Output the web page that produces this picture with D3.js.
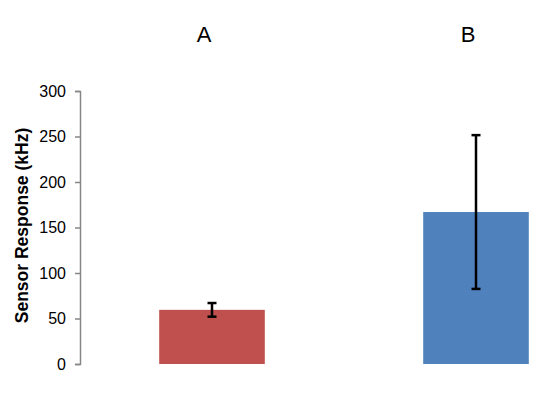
<!DOCTYPE html>
<meta charset="utf-8">
<style>
body { margin: 0; background: #fff; }
text { font-family: "Liberation Sans", Arial, sans-serif; }
</style>
<svg width="550" height="393"></svg>
<script src="https://d3js.org/d3.v7.min.js"></script>
<script>

var categories = ["A", "B"];
var values = [59.5, 167];
var errors = [7.5, 84.5];
var colors = ["#C0504D", "#4F81BD"];
var yTicks = [0, 50, 100, 150, 200, 250, 300];

var svg = d3.select("svg"),
    margin = {top: 91, left: 80, bottom: 29},
    height = +svg.attr("height") - margin.bottom;

var x = d3.scaleBand()
    .domain(categories)
    .range([margin.left, margin.left + 528])
    .paddingInner(0.6)
    .paddingOuter(0.3);

var y = d3.scaleLinear()
    .domain([0, 300])
    .range([height, margin.top]);

var data = categories.map(function(c, i) {
  return {cat: c, value: values[i], err: errors[i], color: colors[i]};
});

// bars
svg.selectAll(".bar")
  .data(data)
  .enter().append("rect")
    .attr("class", "bar")
    .attr("x", function(d) { return x(d.cat); })
    .attr("y", function(d) { return y(d.value); })
    .attr("width", x.bandwidth())
    .attr("height", function(d) { return y(0) - y(d.value); })
    .attr("fill", function(d) { return d.color; });

// y axis
var yAxis = svg.append("g")
    .attr("transform", "translate(" + margin.left + ",0)")
    .call(d3.axisLeft(y).tickValues(yTicks).tickSize(5).tickPadding(9));

yAxis.select(".domain").attr("stroke", "#868686").attr("stroke-width", 1.5);
yAxis.selectAll(".tick line").attr("stroke", "#868686").attr("stroke-width", 1.5);
yAxis.selectAll(".tick text")
    .attr("font-family", "'Liberation Sans', Arial, sans-serif")
    .attr("font-size", 16)
    .attr("fill", "#000");

// error bars
var eb = svg.append("g").selectAll("g")
  .data(data)
  .enter().append("g")
    .attr("stroke", "#000")
    .attr("stroke-width", 2.5);

eb.append("line")
    .attr("x1", function(d) { return x(d.cat) + x.bandwidth() / 2; })
    .attr("x2", function(d) { return x(d.cat) + x.bandwidth() / 2; })
    .attr("y1", function(d) { return y(d.value + d.err); })
    .attr("y2", function(d) { return y(d.value - d.err); });

[1, -1].forEach(function(s) {
  eb.append("line")
      .attr("x1", function(d) { return x(d.cat) + x.bandwidth() / 2 - 4.5; })
      .attr("x2", function(d) { return x(d.cat) + x.bandwidth() / 2 + 4.5; })
      .attr("y1", function(d) { return y(d.value + s * d.err); })
      .attr("y2", function(d) { return y(d.value + s * d.err); });
});

// category labels on top
svg.selectAll(".cat")
  .data(data)
  .enter().append("text")
    .attr("class", "cat")
    .attr("x", function(d) { return x(d.cat) + x.bandwidth() / 2 - 8; })
    .attr("y", 42)
    .attr("text-anchor", "middle")
    .attr("font-size", 22)
    .text(function(d) { return d.cat; });

// y axis title
svg.append("text")
    .attr("transform", "translate(28," + ((y(0) + y(300)) / 2 - 2) + ") rotate(-90)")
    .attr("text-anchor", "middle")
    .attr("font-size", 17.5)
    .attr("font-weight", "bold")
    .text("Sensor Response (kHz)");

</script>
